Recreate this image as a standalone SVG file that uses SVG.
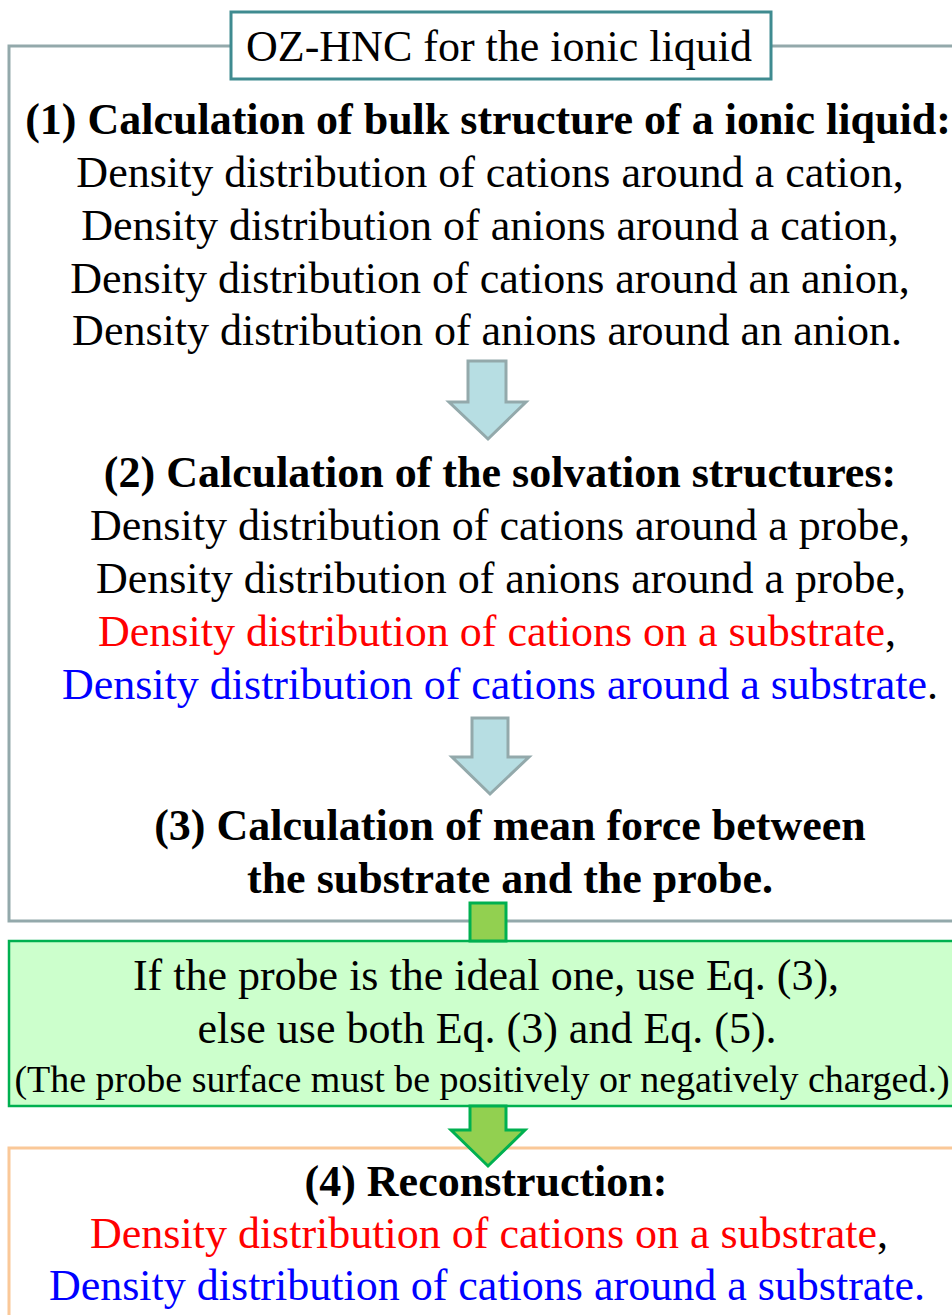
<svg xmlns="http://www.w3.org/2000/svg" width="952" height="1315" viewBox="0 0 952 1315">
<style>
text{font-family:"Liberation Serif","Times New Roman",serif;font-size:44px;fill:#000;text-anchor:middle}
.b{font-weight:bold}
.sm{font-size:38px}
.r{fill:#ff0000}
.bl{fill:#0000ff}
.k{fill:#000}
.frame{fill:none;stroke:#93a9ab;stroke-width:3}
.arrowB{fill:#b7dee3;stroke:#93a9ab;stroke-width:3;stroke-linejoin:miter}
.arrowG{fill:#92d050;stroke:#00b050;stroke-width:3}
</style>
<rect width="952" height="1315" fill="#ffffff"/>
<g id="frame">
<path class="frame" d="M231,46 H9 V921 H960 M771,46 H960"/>
</g>
<g id="title">
<rect x="231" y="12" width="540" height="67" fill="#ffffff" stroke="#3f8b90" stroke-width="3"/>
<text x="499" y="61">OZ-HNC for the ionic liquid</text>
</g>
<g id="step1">
<text class="b" x="488" y="134">(1) Calculation of bulk structure of a ionic liquid:</text>
<text x="490" y="187">Density distribution of cations around a cation,</text>
<text x="490" y="240">Density distribution of anions around a cation,</text>
<text x="490" y="293">Density distribution of cations around an anion,</text>
<text x="487" y="345">Density distribution of anions around an anion.</text>
</g>
<g id="step2">
<text class="b" x="500" y="487">(2) Calculation of the solvation structures:</text>
<text x="500" y="540">Density distribution of cations around a probe,</text>
<text x="501" y="593">Density distribution of anions around a probe,</text>
<text x="497" y="646"><tspan class="r">Density distribution of cations on a substrate</tspan><tspan class="k">,</tspan></text>
<text x="500" y="699"><tspan class="bl">Density distribution of cations around a substrate</tspan><tspan class="k">.</tspan></text>
</g>
<g id="step3">
<text class="b" x="510" y="840">(3) Calculation of mean force between</text>
<text class="b" x="510" y="893">the substrate and the probe.</text>
</g>
<g id="condition">
<rect x="9" y="941" width="960" height="165" fill="#ccffcc" stroke="#00b050" stroke-width="2.5"/>
<text x="486" y="990">If the probe is the ideal one, use Eq. (3),</text>
<text x="487" y="1043">else use both Eq. (3) and Eq. (5).</text>
<text class="sm" x="482" y="1092">(The probe surface must be positively or negatively charged.)</text>
</g>
<g id="step4">
<rect x="9" y="1148" width="960" height="180" fill="#ffffff" stroke="#fac898" stroke-width="3"/>
<text class="b" x="486" y="1196">(4) Reconstruction:</text>
<text x="489" y="1248"><tspan class="r">Density distribution of cations on a substrate</tspan><tspan class="k">,</tspan></text>
<text x="487" y="1300"><tspan class="bl">Density distribution of cations around a substrate.</tspan></text>
</g>
<g id="connectors">
<path class="arrowB" d="M468,361 H506 V402 H526 L488,439 L449,402 H468 Z"/>
<path class="arrowB" d="M472,718 H508 V757 H529 L490,794 L452,757 H472 Z"/>
<rect class="arrowG" x="470" y="903" width="36" height="38"/>
<path class="arrowG" d="M470,1106 H506 V1130 H525 L488,1166 L451,1130 H470 Z"/>
</g>
</svg>
